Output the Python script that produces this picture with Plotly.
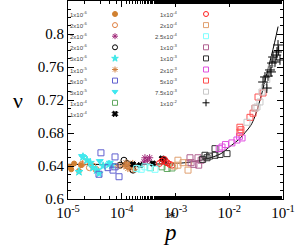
import plotly.graph_objects as go

# ---------------- data ----------------
series_labels = ["1x10<sup>-6</sup>", "2x10<sup>-6</sup>", "2x10<sup>-6</sup>", "2x10<sup>-6</sup>",
                 "5x10<sup>-6</sup>", "1x10<sup>-5</sup>", "5x10<sup>-5</sup>", "5x10<sup>-5</sup>",
                 "1x10<sup>-4</sup>", "1x10<sup>-4</sup>",
                 "1x10<sup>-4</sup>", "2x10<sup>-4</sup>", "2.5x10<sup>-4</sup>", "1x10<sup>-3</sup>",
                 "1x10<sup>-3</sup>", "2x10<sup>-3</sup>", "5x10<sup>-3</sup>", "7.5x10<sup>-3</sup>",
                 "1x10<sup>-2</sup>"]

p_s1 = [1.05e-5, 1.15e-5, 1.3e-5, 1.6e-5, 1.75e-5]
nu_s1 = [0.639, 0.636, 0.643, 0.634, 0.641]
p_s2 = [1.8e-5, 2.1e-5, 2.5e-5, 2.9e-5, 3.3e-5, 1.35e-4, 1.55e-4]
nu_s2 = [0.642, 0.645, 0.638, 0.640, 0.636, 0.639, 0.636]
p_s3 = [2.6e-4, 2.7e-4, 3.0e-4, 3.3e-4]
nu_s3 = [0.645, 0.650, 0.647, 0.650]
p_s4 = [9.3e-5, 1.10e-4, 1.25e-4, 1.62e-4]
nu_s4 = [0.641, 0.647, 0.643, 0.635]
p_s5 = [1.6e-5, 1.9e-5, 2.26e-5, 2.6e-5, 2.9e-5, 3.4e-5, 3.8e-5, 4.5e-5, 5.8e-5, 6.5e-5]
nu_s5 = [0.633, 0.651, 0.647, 0.644, 0.638, 0.635, 0.631, 0.640, 0.642, 0.641]
p_s6 = [8.5e-5, 1.1e-4, 1.2e-4, 1.25e-4, 1.3e-4, 1.42e-4, 1.55e-4, 1.6e-4, 1.7e-4]
nu_s6 = [0.640, 0.640, 0.644, 0.641, 0.637, 0.642, 0.639, 0.643, 0.636]
p_s7 = [3.77e-5, 4.1e-5, 5.55e-5, 6.87e-5, 7.5e-5, 7.5e-5, 8.9e-5]
nu_s7 = [0.630, 0.656, 0.638, 0.635, 0.651, 0.639, 0.627]
p_s8 = [1.82e-5, 3.9e-5, 6.0e-5]
nu_s8 = [0.652, 0.646, 0.644]
p_s9 = [3.4e-4, 5.6e-4, 7.0e-4, 8.6e-4]
nu_s9 = [0.638, 0.639, 0.637, 0.6376]
p_s10 = [1.62e-4, 2.2e-4, 3.8e-4, 5.6e-4, 6.2e-4]
nu_s10 = [0.642, 0.641, 0.643, 0.649, 0.647]
p_s11 = [5.0e-4, 5.6e-4, 6.2e-4, 6.6e-4, 7.0e-4, 7.8e-4, 8.6e-4]
nu_s11 = [0.643, 0.646, 0.648, 0.645, 0.644, 0.642, 0.641]
p_s12 = [9.5e-4, 1.11e-3, 1.11e-3, 1.38e-3, 1.71e-3, 1.76e-3]
nu_s12 = [0.640, 0.647, 0.641, 0.644, 0.635, 0.644]
p_s13 = [1.9e-4, 2.3e-4, 2.7e-4, 3.36e-4, 4.16e-4]
nu_s13 = [0.637, 0.636, 0.639, 0.638, 0.636]
p_s14 = [1.86e-3, 1.95e-3, 2.2e-3, 2.62e-3, 2.7e-3, 3.0e-3]
nu_s14 = [0.650, 0.644, 0.642, 0.650, 0.641, 0.647]
p_s15 = [3.2e-3, 3.54e-3, 3.86e-3, 4.3e-3, 5.43e-3, 5.43e-3, 6.73e-3, 9.08e-3]
nu_s15 = [0.648, 0.653, 0.650, 0.652, 0.661, 0.653, 0.654, 0.655]
p_s16 = [6.5e-3, 7.33e-3, 8.5e-3, 1.12e-2, 1.39e-2, 1.55e-2, 1.73e-2]
nu_s16 = [0.661, 0.663, 0.666, 0.668, 0.6715, 0.676, 0.674]
p_s17 = [1.58e-2, 1.65e-2, 1.58e-2, 2.43e-2, 2.77e-2, 3.0e-2, 3.43e-2, 4.25e-2]
nu_s17 = [0.681, 0.684, 0.687, 0.699, 0.704, 0.710, 0.7236, 0.7285]
p_s18 = [2.14e-2, 3.01e-2, 3.28e-2, 3.73e-2, 4.06e-2, 4.5e-2, 5.0e-2, 6.0e-2, 7.0e-2]
nu_s18 = [0.693, 0.710, 0.7115, 0.7176, 0.7297, 0.735, 0.745, 0.758, 0.770]
p_s19 = [4.25e-2, 4.62e-2, 5.0e-2, 5.26e-2, 5.73e-2, 6.0e-2, 6.24e-2, 6.52e-2, 7.1e-2,
         7.5e-2, 7.73e-2, 8.08e-2, 8.3e-2, 8.79e-2]
nu_s19 = [0.7418, 0.7479, 0.7345, 0.7491, 0.7564, 0.7540, 0.7648, 0.7721, 0.7661,
          0.7745, 0.7782, 0.7867, 0.780, 0.7685]

p_curve = [1e-5, 1e-4, 5e-4, 1e-3, 2e-3, 3e-3, 5e-3, 7e-3, 1e-2, 1.5e-2, 2e-2, 2.5e-2,
           3e-2, 4e-2, 5e-2, 6e-2, 7e-2, 8.1e-2]
nu_curve = [0.642, 0.642, 0.6425, 0.643, 0.645, 0.647, 0.651, 0.655, 0.663, 0.672, 0.681,
            0.689, 0.700, 0.727, 0.752, 0.772, 0.790, 0.809]

x_tickvals = [1e-5, 1e-4, 1e-3, 1e-2, 1e-1]
x_ticktext = ["10<sup>-5</sup>", "10<sup>-4</sup>", "10<sup>-3</sup>", "10<sup>-2</sup>", "10<sup>-1</sup>"]
y_tickvals = [0.6, 0.64, 0.68, 0.72, 0.76, 0.8, 0.84]
y_ticktext = ["0.6", "0.64", "0.68", "0.72", "0.76", "0.8", "0.84"]

# ---------------- styles ----------------
P = [p_s1, p_s2, p_s3, p_s4, p_s5, p_s6, p_s7, p_s8, p_s9, p_s10,
     p_s11, p_s12, p_s13, p_s14, p_s15, p_s16, p_s17, p_s18, p_s19]
N = [nu_s1, nu_s2, nu_s3, nu_s4, nu_s5, nu_s6, nu_s7, nu_s8, nu_s9, nu_s10,
     nu_s11, nu_s12, nu_s13, nu_s14, nu_s15, nu_s16, nu_s17, nu_s18, nu_s19]
styles = [
    ("circle", "#d08030", 5),
    ("circle-open", "#e08040", 6),
    ("asterisk-open", "#a02878", 6),
    ("circle-open", "#000000", 6),
    ("star", "#40e8e8", 6),
    ("asterisk-open", "#d08040", 6),
    ("square-open", "#6060d0", 6),
    ("triangle-down", "#40e8f0", 6),
    ("square-open", "#60a860", 6),
    ("x", "#000000", 5),
    ("circle-open", "#ff2020", 6),
    ("square-open", "#e0a070", 6),
    ("square-open", "#80ffff", 6),
    ("square-open", "#b06090", 6),
    ("square-open", "#303030", 6),
    ("square-open", "#e050e0", 6),
    ("square-open", "#ff5050", 6),
    ("square-open", "#c8c8c8", 6),
    ("cross-thin-open", "#000000", 7),
]

L, R, T, B = 68, 17, 1, 46
W, H = 300, 245
PW, PH = W - L - R, H - T - B

def fx(px):
    return (px - L) / PW

def fy(py):
    return (H - B - py) / PH

fig = go.Figure()

fig.add_trace(go.Scatter(x=p_curve, y=nu_curve, mode="lines",
                         line=dict(color="black", width=1), line_shape="spline",
                         showlegend=False, hoverinfo="skip"))

for i, (px_, nu_) in enumerate(zip(P, N)):
    sym, col, sz = styles[i]
    fig.add_trace(go.Scatter(x=px_, y=nu_, mode="markers", showlegend=False,
                             marker=dict(symbol=sym, color=col, size=sz,
                                         line=dict(color=col, width=1))))

# legend markers (overlay axes in plot-area fractions)
for i in range(len(series_labels)):
    col_idx = 0 if i < 10 else 1
    row = i if i < 10 else i - 10
    ypx = 14 + 11.1 * row
    mx = 115 if col_idx == 0 else 206
    lx = 89 if col_idx == 0 else 179
    sym, col, sz = styles[i]
    fig.add_trace(go.Scatter(x=[fx(mx)], y=[fy(ypx)], xaxis="x2", yaxis="y2",
                             mode="markers", showlegend=False, hoverinfo="skip",
                             marker=dict(symbol=sym, color=col, size=5,
                                         line=dict(color=col, width=1))))
    fig.add_annotation(x=fx(lx), y=fy(ypx), xref="x2", yref="y2", text=series_labels[i],
                       showarrow=False, xanchor="right", yanchor="middle",
                       font=dict(family="Liberation Sans", size=6, color="#444444"))

fig.add_annotation(x=fx(171.5), y=fy(217), xref="paper", yref="paper", text="*",
                   showarrow=False, xanchor="center", yanchor="middle",
                   font=dict(family="Liberation Serif", size=15, color="black"))
fig.add_annotation(x=fx(170), y=fy(232), xref="paper", yref="paper", text="<i>p</i>",
                   showarrow=False, xanchor="center", yanchor="middle",
                   font=dict(family="Liberation Serif", size=23, color="black"))
fig.add_annotation(x=fx(18), y=fy(101), xref="paper", yref="paper", text="ν",
                   showarrow=False, xanchor="center", yanchor="middle",
                   font=dict(family="Liberation Serif", size=22, color="black"))

axis_common = dict(showline=True, linecolor="black", linewidth=1, mirror="allticks",
                   ticks="inside", ticklen=6, tickcolor="black", showgrid=False,
                   zeroline=False,
                   tickfont=dict(family="Liberation Serif", size=15, color="black"))

fig.update_layout(
    width=W, height=H, margin=dict(l=L, r=R, t=T, b=B),
    paper_bgcolor="white", plot_bgcolor="white",
    xaxis=dict(type="log", range=[-5, -1], tickvals=x_tickvals, ticktext=x_ticktext,
               minor=dict(ticks="inside", ticklen=3, tickcolor="black", showgrid=False),
               **axis_common),
    yaxis=dict(range=[0.6, 0.84], tickvals=y_tickvals, ticktext=y_ticktext,
               minor=dict(ticks="inside", ticklen=3, tickcolor="black", dtick=0.01,
                          tick0=0.6, showgrid=False),
               **axis_common),
    xaxis2=dict(overlaying="x", range=[0, 1], visible=False),
    yaxis2=dict(overlaying="y", range=[0, 1], visible=False),
    showlegend=False,
)

fig.write_html("out.html", config={"displayModeBar": False},
               post_script="document.body.style.margin='0';")
